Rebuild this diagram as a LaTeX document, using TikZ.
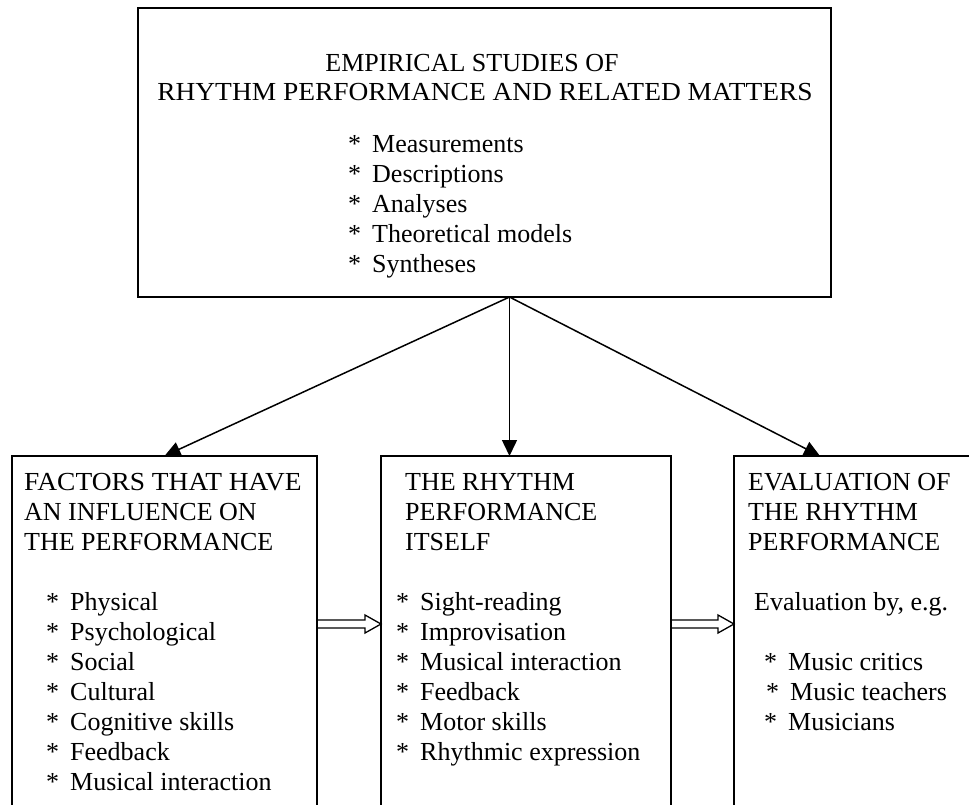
\documentclass[tikz,border=0pt]{standalone}
\usepackage{fontspec}
\setmainfont{Liberation Serif}
\usetikzlibrary{arrows.meta,calc}
% bullet item: asterisk in a fixed-width slot, then the text
\newcommand\stitem[1]{\makebox[24pt][l]{*}#1}
% slightly wider setting for a few heading lines
\newcommand\widened[1]{\scalebox{1.055}[1]{#1}}
\begin{document}
\begin{tikzpicture}[x=1pt,y=-1pt,
  box/.style={draw, line width=1.6pt, inner sep=0pt, outer sep=0pt, anchor=north west},
  txt/.style={anchor=base west, inner sep=0pt, font=\fontsize{26}{30}\selectfont},
  ctxt/.style={anchor=base, inner sep=0pt, font=\fontsize{26}{30}\selectfont},
  link/.style={line width=1.5pt, -{Triangle[length=16pt,width=15pt]}},
  hollow/.style={line width=1.3pt, line join=miter}]
\clip (0,0) rectangle (969,804);
\fill[white] (0,0) rectangle (969,804);

% boxes
\node[box, minimum width=693pt, minimum height=289pt] (top) at (138,8) {};
\node[box, minimum width=305pt, minimum height=380pt] (left) at (12,456) {};
\node[box, minimum width=290pt, minimum height=380pt] (mid) at (381,456) {};
\node[box, minimum width=280pt, minimum height=380pt] (right) at (734,456) {};

% top box text
\node[ctxt] (t1) at (472,71) {EMPIRICAL STUDIES OF};
\node[ctxt] (t2) at (485,100) {\widened{RHYTHM PERFORMANCE AND RELATED MATTERS}};
\foreach \t [count=\i] in {Measurements,Descriptions,Analyses,Theoretical models,Syntheses}
  \node[txt] (tb\i) at (348,122+30*\i) {\stitem{\t}};

% left box text
\node[txt] (lh1) at (24,490) {\widened{FACTORS THAT HAVE}};
\node[txt] (lh2) at (24,520) {AN INFLUENCE ON};
\node[txt] (lh3) at (24,550) {THE PERFORMANCE};
\foreach \t [count=\i] in {Physical,Psychological,Social,Cultural,Cognitive skills,Feedback,Musical interaction}
  \node[txt] (lb\i) at (46,580+30*\i) {\stitem{\t}};

% middle box text
\foreach \t [count=\i] in {THE RHYTHM,PERFORMANCE,ITSELF}
  \node[txt] (mh\i) at (405,460+30*\i) {\t};
\foreach \t [count=\i] in {Sight-reading,Improvisation,Musical interaction,Feedback,Motor skills,Rhythmic expression}
  \node[txt] (mb\i) at (396,580+30*\i) {\stitem{\t}};

% right box text
\foreach \t [count=\i] in {EVALUATION OF,THE RHYTHM,PERFORMANCE}
  \node[txt] (rh\i) at (748,460+30*\i) {\t};
\node[txt] (rby) at (754,610) {Evaluation by, e.g.};
\node[txt] (rb1) at (764,670) {\stitem{Music critics}};
\node[txt] (rb2) at (766,700) {\stitem{Music teachers}};
\node[txt] (rb3) at (764,730) {\stitem{Musicians}};

% arrows from the top box
\path (top.south) ++(25,0) coordinate (apex);
\draw[link] (apex) -- (left.north);
\draw[link] (apex) -- (apex |- mid.north);
\draw[link] (apex) -- ([xshift=86pt]right.north west);

% hollow arrows between the lower boxes
\path (left.north east) ++(0,168) coordinate (a1);
\coordinate (b1) at (a1 -| mid.west);
\path (mid.north east) ++(0,168) coordinate (a2);
\coordinate (b2) at (a2 -| right.west);
\foreach \a/\b in {a1/b1,a2/b2}
  \draw[hollow] ($(\a)+(0,-4)$) -- ($(\b)+(-16,-4)$) -- ($(\b)+(-16,-9)$) -- (\b)
    -- ($(\b)+(-16,9)$) -- ($(\b)+(-16,4)$) -- ($(\a)+(0,4)$);
\end{tikzpicture}
\end{document}
